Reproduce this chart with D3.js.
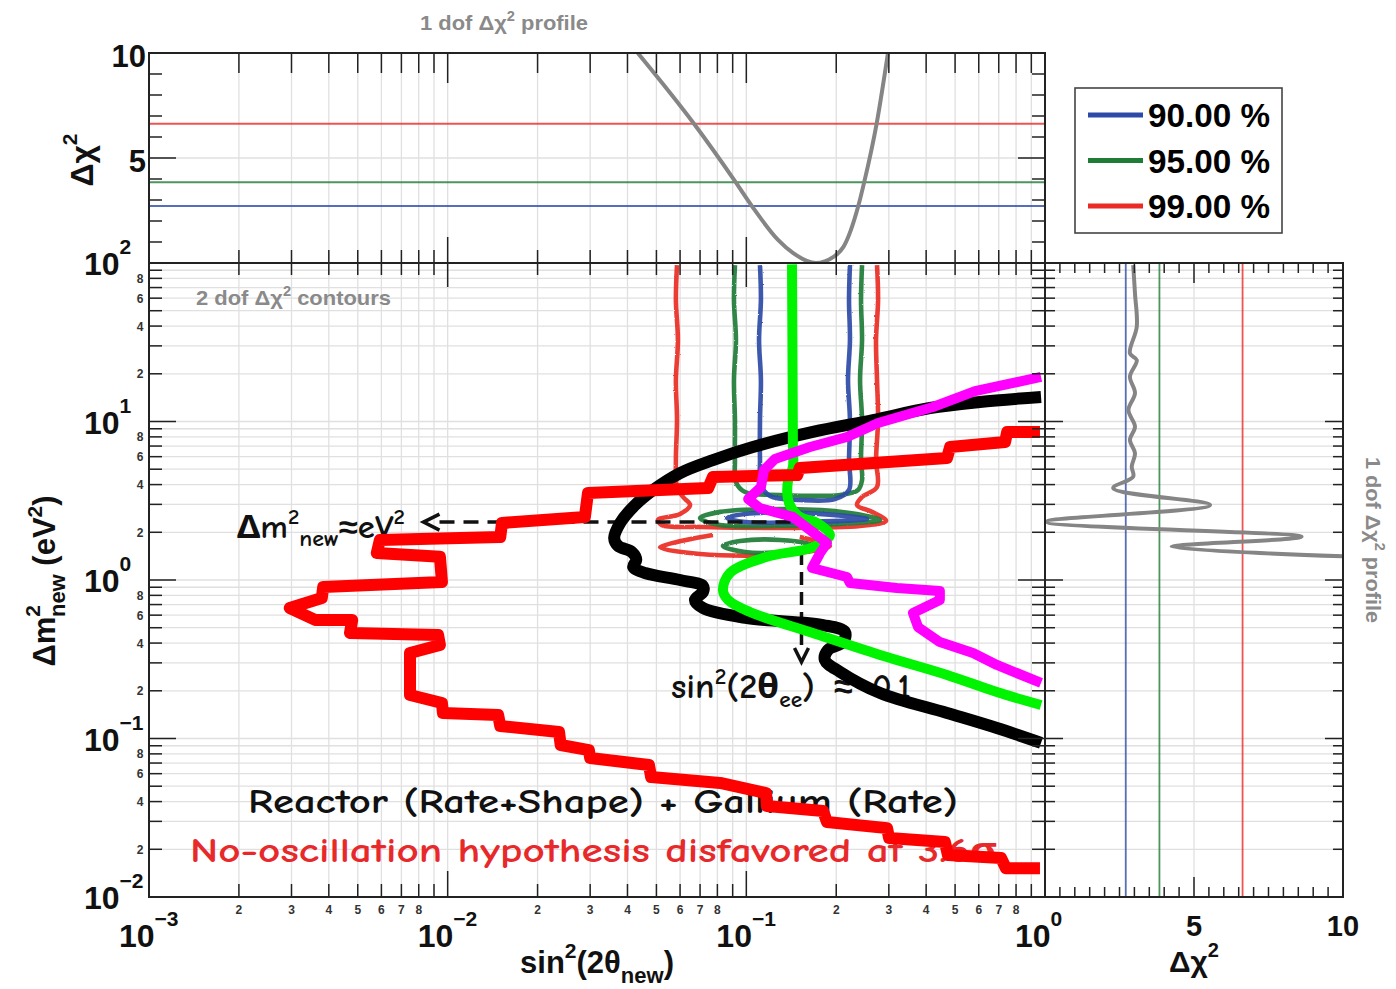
<!DOCTYPE html>
<html>
<head>
<meta charset="utf-8">
<script src="https://cdn.jsdelivr.net/npm/d3@7"></script>
<style>
  html, body { margin: 0; padding: 0; background: #fff; }
  svg { display: block; }
</style>
</head>
<body>
<svg id="chart" width="1396" height="989"></svg>
<script>
// ---------------- data ----------------
// tick labels
const xMajorExp = ["\u22123", "\u22122", "\u22121", "0"];
const xMajorVal = [1e-3, 1e-2, 1e-1, 1];
const xMinorDigits = [2, 3, 4, 5, 6, 7, 8];
const yMajorExp = ["\u22122", "\u22121", "0", "1", "2"];
const yMajorVal = [1e-2, 1e-1, 1, 10, 100];
const yMinorDigits = [2, 4, 6, 8];
const topYLabels = [5, 10];
const rightXLabels = [5, 10];

// confidence levels (1 dof thresholds shown as lines)
const clNames = ["90.00 %", "95.00 %", "99.00 %"];
const clColors = ["#2c4ba6", "#1f7c36", "#ea2b25"];
const clDchi2 = [2.71, 3.84, 6.63];

// 1 dof profile versus sin^2(2theta)
const profS = [0.0433, 0.0668, 0.0922, 0.1044, 0.1277, 0.1432, 0.171, 0.1958, 0.2118, 0.237, 0.248, 0.273, 0.298];
const profC = [10, 6.63, 3.84, 2.71, 1.1, 0.48, 0, 0.29, 0.78, 2.71, 3.84, 6.63, 10];

// 1 dof profile versus dm^2
const profRC = [2.96, 3.02, 3.08, 2.85, 3.08, 2.85, 3.02, 2.80, 3.02, 2.85, 3.02, 2.91, 2.96, 2.29, 5.54, 0.05, 8.61, 4.25, 10.5];
const profRM = [97, 64, 39.7, 26.9, 24.4, 19.2, 15.1, 11.8, 9.27, 7.64, 6.30, 5.19, 4.49, 3.80, 2.97, 2.33, 1.875, 1.62, 1.40];

// 2 dof contours: [sin^2(2theta), dm^2]
const c99Main = [[0.0586,97.1],[0.0581,58.4],[0.0590,32.7],[0.0581,18.27],[0.0586,10.21],[0.0581,5.71],[0.0586,3.86],[0.0614,3.34],[0.0648,2.97],[0.0600,2.61],[0.0506,2.39],[0.0522,2.22],[0.0700,2.16],[0.1297,2.13],[0.2403,2.19],[0.2936,2.36],[0.2634,2.69],[0.2348,2.97],[0.2440,3.34],[0.2739,3.86],[0.2718,5.71],[0.2761,10.21],[0.2739,18.27],[0.2718,32.7],[0.2761,58.4],[0.2739,97.1]];
const c99Lobe = [[0.151,1.87],[0.1905,1.64],[0.1401,1.46],[0.0700,1.46],[0.0514,1.61],[0.0773,1.92]];
const c95Main = [[0.0916,97.1],[0.0909,58.4],[0.0923,32.7],[0.0909,18.27],[0.0916,10.21],[0.0916,5.71],[0.0923,4.15],[0.0990,3.59],[0.1297,3.44],[0.2061,3.44],[0.2366,3.70],[0.2440,4.27],[0.2421,5.71],[0.2440,10.21],[0.2403,18.27],[0.2440,32.7],[0.2421,58.4],[0.2440,97.1]];
const c95Island1 = [[0.0700,2.46],[0.0817,2.69],[0.1297,2.80],[0.2061,2.69],[0.2805,2.39],[0.2061,2.26],[0.1297,2.19],[0.0817,2.22]];
const c95Island2 = [[0.0835,1.64],[0.0952,1.76],[0.1297,1.79],[0.167,1.66],[0.1401,1.52],[0.0990,1.50]];
const c90Main = [[0.1111,97.1],[0.1119,58.4],[0.1103,32.7],[0.1119,18.27],[0.1111,10.21],[0.1111,5.71],[0.1119,3.98],[0.1200,3.39],[0.151,3.20],[0.1981,3.24],[0.2207,3.70],[0.2207,5.71],[0.2223,10.21],[0.2190,18.27],[0.2223,32.7],[0.2207,58.4],[0.2223,97.1]];
const c90Island = [[0.0862,2.46],[0.0990,2.61],[0.151,2.65],[0.2535,2.43],[0.151,2.32],[0.0990,2.32]];

// overlaid curves
const redStepS = [0.962,0.747,0.735,0.481,0.470,0.151,0.148,0.0773,0.0745,0.0295,0.0288,0.0152,0.0150,0.00593,0.00579,0.00942,0.00957,0.00383,0.00379,0.00296,0.00360,0.00479,0.00471,0.00929,0.00942,0.00748,0.00748,0.00957,0.00964,0.01476,0.0150,0.0236,0.0239,0.0297,0.0300,0.0472,0.0480,0.0817,0.1164,0.1172,0.1807,0.1862,0.2958,0.3006,0.4624,0.4732,0.7129,0.7396,0.962];
const redStepM = [8.59,8.59,7.43,6.90,5.89,5.09,4.59,4.47,3.80,3.54,2.50,2.29,1.87,1.79,1.48,1.40,0.970,0.903,0.769,0.665,0.560,0.560,0.463,0.450,0.389,0.346,0.188,0.1675,0.1449,0.1406,0.1199,0.1099,0.0910,0.0845,0.0753,0.0681,0.0571,0.0524,0.0453,0.0375,0.0349,0.0297,0.0272,0.0236,0.0222,0.0184,0.0176,0.0152,0.0152];
const blackS = [0.970,0.605,0.412,0.2655,0.167,0.1052,0.0773,0.0600,0.0488,0.0418,0.0378,0.0361,0.0372,0.0414,0.0428,0.0418,0.0458,0.0600,0.0716,0.0716,0.0673,0.0716,0.1005,0.1807,0.2138,0.2109,0.1875,0.1832,0.2061,0.2805,0.470,0.690,0.970];
const blackM = [14.29,13.28,12.16,10.21,8.59,6.90,5.71,4.73,3.70,2.89,2.29,1.84,1.64,1.50,1.337,1.208,1.107,1.000,0.916,0.840,0.748,0.665,0.575,0.520,0.470,0.406,0.361,0.313,0.263,0.1936,0.1449,0.1164,0.0938];
const limeS = [0.1422,0.1432,0.1432,0.1380,0.1390,0.151,0.1726,0.1905,0.167,0.1172,0.0881,0.0835,0.0869,0.1028,0.167,0.2805,0.470,0.690,0.970];
const limeM = [98,6.90,5.16,4.27,3.06,2.50,2.29,1.92,1.61,1.40,1.107,0.865,0.748,0.628,0.463,0.3365,0.2518,0.1963,0.1626];
const magS = [0.970,0.583,0.4217,0.2761,0.2173,0.1633,0.1247,0.1146,0.1119,0.1014,0.1111,0.1432,0.1633,0.1862,0.1766,0.1660,0.2173,0.2223,0.3192,0.4446,0.4446,0.3614,0.3758,0.4446,0.5741,0.690,0.970];
const magM = [19.1,15.56,12.34,9.79,7.98,6.90,5.80,4.94,3.86,3.24,2.84,2.50,2.07,1.71,1.48,1.191,1.045,0.957,0.891,0.853,0.748,0.619,0.505,0.406,0.346,0.291,0.224];

// annotation arrows
const arrowHS = [0.0083, 0.17];
const arrowHM = [2.32, 2.32];
const arrowVS = [0.153, 0.153];
const arrowVM = [1.5, 0.304];

// ---------------- layout ----------------
const AX_FONT = "'Liberation Sans', Arial, Helvetica, sans-serif";
const HAND_FONT = "'Comic Sans MS', 'Comic Neue', 'Noto Sans', sans-serif";
const TITLE_GRAY = "#8a8a8a";

const svg = d3.select("#chart");
const defs = svg.append("defs");

const x = d3.scaleLog().domain([1e-3, 1]).range([149, 1045]);
const y = d3.scaleLog().domain([1e-2, 1e2]).range([897, 263]);
const yTop = d3.scaleLinear().domain([0, 10]).range([263, 53]);
const xRight = d3.scaleLinear().domain([0, 10]).range([1045, 1343]);

const mainP = {x0: 149, x1: 1045, y0: 263, y1: 897};
const topP = {x0: 149, x1: 1045, y0: 53, y1: 263};
const rightP = {x0: 1045, x1: 1343, y0: 263, y1: 897};

function addClip(id, p) {
  defs.append("clipPath").attr("id", id).append("rect")
    .attr("x", p.x0).attr("y", p.y0).attr("width", p.x1 - p.x0).attr("height", p.y1 - p.y0);
}
addClip("clipMain", mainP);
addClip("clipTop", topP);
addClip("clipRight", rightP);

// slightly ragged rendering for the computed contour lines
const rough = defs.append("filter").attr("id", "rough").attr("filterUnits", "userSpaceOnUse")
  .attr("x", 140).attr("y", 255).attr("width", 920).attr("height", 660);
rough.append("feTurbulence").attr("type", "fractalNoise").attr("baseFrequency", "0.9")
  .attr("numOctaves", 1).attr("seed", 4).attr("result", "n");
rough.append("feDisplacementMap").attr("in", "SourceGraphic").attr("in2", "n")
  .attr("scale", 2.2).attr("xChannelSelector", "R").attr("yChannelSelector", "G");

function logTicks(eLo, eHi) {
  const out = [];
  for (let e = eLo; e < eHi; e++) for (let k = 1; k < 10; k++) out.push({v: k * Math.pow(10, e), major: k === 1});
  out.push({v: Math.pow(10, eHi), major: true});
  return out;
}
const xTicks = logTicks(-3, 0);
const yTicks = logTicks(-2, 2);
const linTicks = (step, majorEvery) => d3.range(0, 10 + 1e-9, step).map(v => ({v, major: Math.abs(v / majorEvery - Math.round(v / majorEvery)) < 1e-9}));
const topYTicks = linTicks(1, 5);
const rightXTicks = linTicks(0.5, 5);

// ---------------- grid ----------------
const grid = svg.append("g").attr("stroke", "#e0e0e0").attr("stroke-width", 1.3);
xTicks.slice(1, -1).forEach(t => {
  grid.append("line").attr("x1", x(t.v)).attr("x2", x(t.v)).attr("y1", mainP.y0).attr("y2", mainP.y1);
  grid.append("line").attr("x1", x(t.v)).attr("x2", x(t.v)).attr("y1", topP.y0).attr("y2", topP.y1);
});
yTicks.slice(1, -1).forEach(t => {
  grid.append("line").attr("y1", y(t.v)).attr("y2", y(t.v)).attr("x1", mainP.x0).attr("x2", mainP.x1);
  grid.append("line").attr("y1", y(t.v)).attr("y2", y(t.v)).attr("x1", rightP.x0).attr("x2", rightP.x1);
});
grid.append("line").attr("y1", yTop(5)).attr("y2", yTop(5)).attr("x1", topP.x0).attr("x2", topP.x1);
grid.append("line").attr("x1", xRight(5)).attr("x2", xRight(5)).attr("y1", rightP.y0).attr("y2", rightP.y1);

// ---------------- top panel: 1 dof profile in sin^2 ----------------
const gTop = svg.append("g").attr("clip-path", "url(#clipTop)");
clDchi2.forEach((c, i) => {
  gTop.append("line").attr("x1", topP.x0).attr("x2", topP.x1).attr("y1", yTop(c)).attr("y2", yTop(c))
    .attr("stroke", clColors[i]).attr("stroke-opacity", 0.8).attr("stroke-width", 2);
});
gTop.append("path")
  .attr("d", d3.line().x((d, i) => x(profS[i])).y((d, i) => yTop(profC[i])).curve(d3.curveMonotoneX)(profS))
  .attr("fill", "none").attr("stroke", "#858585").attr("stroke-width", 4);

// ---------------- right panel: 1 dof profile in dm^2 ----------------
const gRight = svg.append("g").attr("clip-path", "url(#clipRight)");
clDchi2.forEach((c, i) => {
  gRight.append("line").attr("y1", rightP.y0).attr("y2", rightP.y1).attr("x1", xRight(c)).attr("x2", xRight(c))
    .attr("stroke", clColors[i]).attr("stroke-opacity", 0.8).attr("stroke-width", 1.8);
});
gRight.append("path")
  .attr("d", d3.line().x((d, i) => xRight(profRC[i])).y((d, i) => y(profRM[i])).curve(d3.curveCatmullRom.alpha(0.5))(profRC))
  .attr("fill", "none").attr("stroke", "#858585").attr("stroke-width", 4).attr("stroke-linejoin", "round");

// ---------------- main panel ----------------
const gMain = svg.append("g").attr("clip-path", "url(#clipMain)");
const pairLine = d3.line().x(d => x(d[0])).y(d => y(d[1]));

const contours = gMain.append("g").attr("filter", "url(#rough)").attr("fill", "none")
  .attr("stroke-width", 4.6).attr("stroke-linejoin", "round");
const contourSets = [
  {paths: [c99Main], closed: false, color: clColors[2]},
  {paths: [c99Lobe], closed: false, color: clColors[2]},
  {paths: [c95Main], closed: false, color: clColors[1]},
  {paths: [c95Island1, c95Island2], closed: true, color: clColors[1]},
  {paths: [c90Main], closed: false, color: clColors[0]},
  {paths: [c90Island], closed: true, color: clColors[0]}
];
contourSets.forEach(set => {
  set.paths.forEach(p => {
    const gen = d3.line().x(d => x(d[0])).y(d => y(d[1]))
      .curve(set.closed ? d3.curveCatmullRomClosed.alpha(0.5) : d3.curveCatmullRom.alpha(0.5));
    contours.append("path").attr("d", gen(p)).attr("stroke", set.color).attr("stroke-opacity", 0.92);
  });
});

// panel labels
function dofLabel(parent, tx, ty, pre, post, len, rot) {
  const t = parent.append("text").attr("font-family", AX_FONT).attr("font-weight", "bold")
    .attr("font-size", 21).attr("fill", TITLE_GRAY)
    .attr("transform", `translate(${tx},${ty})` + (rot ? ` rotate(${rot})` : ""))
    .attr("textLength", len).attr("lengthAdjust", "spacingAndGlyphs");
  t.append("tspan").text(pre);
  t.append("tspan").attr("font-size", 14).attr("dy", -9).text("2");
  t.append("tspan").attr("dy", 9).text(post);
}
dofLabel(svg, 420, 30, "1 dof \u0394\u03c7", " profile", 168);
dofLabel(svg, 196, 305, "2 dof \u0394\u03c7", " contours", 195);
dofLabel(svg, 1366, 457, "1 dof \u0394\u03c7", " profile", 166, 90);

// hand-written annotations
const ann = gMain.append("g").attr("font-family", HAND_FONT).attr("font-weight", "bold");
{
  const t = ann.append("text").attr("x", 237).attr("y", 538).attr("font-size", 32).attr("fill", "#111")
    .attr("textLength", 168).attr("lengthAdjust", "spacingAndGlyphs");
  t.append("tspan").text("\u0394m");
  t.append("tspan").attr("font-size", 21).attr("dy", -14).text("2");
  t.append("tspan").attr("font-size", 22).attr("dy", 22).text("new");
  t.append("tspan").attr("dy", -8).text("\u2248eV");
  t.append("tspan").attr("font-size", 21).attr("dy", -14).text("2");
}
{
  const t = ann.append("text").attr("x", 671).attr("y", 698).attr("font-size", 34).attr("fill", "#111")
    .attr("textLength", 144).attr("lengthAdjust", "spacingAndGlyphs");
  t.append("tspan").text("sin");
  t.append("tspan").attr("font-size", 22).attr("dy", -14).text("2");
  t.append("tspan").attr("dy", 14).text("(2\u03b8");
  t.append("tspan").attr("font-size", 22).attr("dy", 9).text("ee");
  t.append("tspan").attr("dy", -9).text(")");
  ann.append("text").attr("x", 834).attr("y", 698).attr("font-size", 34).attr("fill", "#111").text("\u2248");
  ann.append("text").attr("x", 872).attr("y", 698).attr("font-size", 34).attr("fill", "#111").text("0.1");
}
ann.append("text").attr("x", 248).attr("y", 813).attr("font-size", 34).attr("fill", "#111")
  .attr("textLength", 710).attr("lengthAdjust", "spacingAndGlyphs")
  .text("Reactor (Rate+Shape) + Gallium (Rate)");
ann.append("text").attr("x", 190).attr("y", 862).attr("font-size", 34).attr("fill", "#e8292b")
  .attr("textLength", 808).attr("lengthAdjust", "spacingAndGlyphs")
  .text("No-oscillation hypothesis disfavored at 3.6\u03c3");

// dashed arrows
const arrows = gMain.append("g").attr("stroke", "#111").attr("fill", "none").attr("stroke-width", 3.5);
{
  const x0 = x(arrowHS[0]), x1 = x(arrowHS[1]), yy = y(arrowHM[0]);
  arrows.append("line").attr("x1", x0 + 16).attr("x2", x1).attr("y1", yy).attr("y2", yy).attr("stroke-dasharray", "15,9");
  arrows.append("path").attr("d", `M${x0 + 16},${yy - 8}L${x0},${yy}L${x0 + 16},${yy + 8}`).attr("stroke-linejoin", "miter");
  const xv = x(arrowVS[0]), y0v = y(arrowVM[0]), y1v = y(arrowVM[1]);
  arrows.append("line").attr("x1", xv).attr("x2", xv).attr("y1", y0v).attr("y2", y1v - 16).attr("stroke-dasharray", "13,7");
  arrows.append("path").attr("d", `M${xv - 7},${y1v - 14}L${xv},${y1v}L${xv + 7},${y1v - 14}`);
}

// thick overlay curves
const zipLine = (S, M) => S.map((s, i) => [s, M[i]]);
gMain.append("path").attr("d", pairLine.curve(d3.curveCatmullRom.alpha(0.5))(zipLine(blackS, blackM)))
  .attr("fill", "none").attr("stroke", "#000").attr("stroke-width", 12).attr("stroke-linejoin", "round").attr("stroke-linecap", "butt");
gMain.append("path").attr("d", pairLine.curve(d3.curveCatmullRom.alpha(0.5))(zipLine(limeS, limeM)))
  .attr("fill", "none").attr("stroke", "#00f400").attr("stroke-width", 10).attr("stroke-linejoin", "round");
gMain.append("path").attr("d", pairLine.curve(d3.curveLinear)(zipLine(redStepS, redStepM)))
  .attr("fill", "none").attr("stroke", "#ff0000").attr("stroke-width", 12).attr("stroke-linejoin", "round");
gMain.append("path").attr("d", pairLine.curve(d3.curveLinear)(zipLine(magS, magM)))
  .attr("fill", "none").attr("stroke", "#ff00ff").attr("stroke-width", 10).attr("stroke-linejoin", "round");

// ---------------- ticks ----------------
const tk = svg.append("g").attr("stroke", "#222").attr("stroke-width", 1.5);
function hTicks(ticks, scale, yy, dir, lMin, lMaj) {
  ticks.forEach(t => { const px = scale(t.v); tk.append("line").attr("x1", px).attr("x2", px).attr("y1", yy).attr("y2", yy + dir * (t.major ? lMaj : lMin)); });
}
function vTicks(ticks, scale, xx, dir, lMin, lMaj) {
  ticks.forEach(t => { const py = scale(t.v); tk.append("line").attr("y1", py).attr("y2", py).attr("x1", xx).attr("x2", xx + dir * (t.major ? lMaj : lMin)); });
}
// main panel
hTicks(xTicks, x, mainP.y1, -1, 13, 26);
hTicks(xTicks, x, mainP.y0, 1, 12, 24);
vTicks(yTicks, y, mainP.x0, 1, 13, 27);
vTicks(yTicks, y, mainP.x1, -1, 13, 27);
// top panel
hTicks(xTicks, x, topP.y0, 1, 20, 30);
hTicks(xTicks, x, topP.y1, -1, 13, 26);
vTicks(topYTicks, yTop, topP.x0, 1, 13, 27);
vTicks(topYTicks, yTop, topP.x1, -1, 13, 27);
// right panel
vTicks(yTicks, y, rightP.x0, 1, 10, 18);
vTicks(yTicks, y, rightP.x1, -1, 10, 18);
hTicks(rightXTicks, xRight, rightP.y0, 1, 10, 20);
hTicks(rightXTicks, xRight, rightP.y1, -1, 10, 20);

// frames
[mainP, topP, rightP].forEach(p => {
  svg.append("rect").attr("x", p.x0).attr("y", p.y0).attr("width", p.x1 - p.x0).attr("height", p.y1 - p.y0)
    .attr("fill", "none").attr("stroke", "#222").attr("stroke-width", 2);
});

// ---------------- tick labels ----------------
const lab = svg.append("g").attr("font-family", AX_FONT).attr("font-weight", "bold").attr("fill", "#111");
function powLabel(px, py, exp, anchor) {
  const t = lab.append("text").attr("x", px).attr("y", py).attr("font-size", 32).attr("text-anchor", anchor || "start");
  t.append("tspan").text("10");
  t.append("tspan").attr("font-size", 21).attr("dy", -21).text(exp);
}
xMajorVal.forEach((v, i) => powLabel(x(v) - 30, 947, xMajorExp[i]));
yMajorVal.forEach((v, i) => powLabel(84, y(v) + 12, yMajorExp[i]));

const minorLab = svg.append("g").attr("font-family", AX_FONT).attr("font-weight", "bold")
  .attr("font-size", 12).attr("fill", "#333").attr("text-anchor", "middle");
[-3, -2, -1].forEach(e => xMinorDigits.forEach(k => {
  minorLab.append("text").attr("x", x(k * Math.pow(10, e))).attr("y", 914).text(k);
}));
[-2, -1, 0, 1].forEach(e => yMinorDigits.forEach(k => {
  minorLab.append("text").attr("x", 140).attr("y", y(k * Math.pow(10, e)) + 4.5).text(k);
}));

topYLabels.forEach(v => lab.append("text").attr("x", 146).attr("y", yTop(v) + 14).attr("font-size", 31)
  .attr("text-anchor", "end").text(v));
rightXLabels.forEach(v => lab.append("text").attr("x", xRight(v)).attr("y", 936).attr("font-size", 29)
  .attr("text-anchor", "middle").text(v));

// ---------------- axis titles ----------------
{
  const t = lab.append("text").attr("x", 597).attr("y", 973).attr("font-size", 31).attr("text-anchor", "middle");
  t.append("tspan").text("sin");
  t.append("tspan").attr("font-size", 21).attr("dy", -15).text("2");
  t.append("tspan").attr("dy", 15).text("(2\u03b8");
  t.append("tspan").attr("font-size", 22).attr("dy", 10).text("new");
  t.append("tspan").attr("dy", -10).text(")");
}
{
  const t = lab.append("text").attr("x", 1194).attr("y", 972).attr("font-size", 30).attr("text-anchor", "middle");
  t.append("tspan").text("\u0394\u03c7");
  t.append("tspan").attr("font-size", 20).attr("dy", -15).text("2");
}
{
  const t = lab.append("text").attr("transform", "translate(93,160) rotate(-90)").attr("font-size", 32).attr("text-anchor", "middle");
  t.append("tspan").text("\u0394\u03c7");
  t.append("tspan").attr("font-size", 21).attr("dy", -16).text("2");
}
{
  const t = lab.append("text").attr("transform", "translate(55,581) rotate(-90)").attr("font-size", 31).attr("text-anchor", "middle");
  t.append("tspan").text("\u0394m");
  t.append("tspan").attr("font-size", 21).attr("dy", -15).text("2");
  t.append("tspan").attr("font-size", 22).attr("dx", -12).attr("dy", 25).text("new");
  t.append("tspan").attr("dy", -10).text(" (eV");
  t.append("tspan").attr("font-size", 21).attr("dy", -13).text("2");
  t.append("tspan").attr("dy", 13).text(")");
}

// ---------------- legend ----------------
const leg = svg.append("g");
leg.append("rect").attr("x", 1075).attr("y", 88).attr("width", 207).attr("height", 145)
  .attr("fill", "#fff").attr("stroke", "#444").attr("stroke-width", 1.6);
clNames.forEach((n, i) => {
  const cy = 115 + i * 45.5;
  leg.append("line").attr("x1", 1088).attr("x2", 1143).attr("y1", cy).attr("y2", cy)
    .attr("stroke", clColors[i]).attr("stroke-width", 5);
  leg.append("text").attr("x", 1148).attr("y", cy + 12).attr("font-family", AX_FONT).attr("font-weight", "bold")
    .attr("font-size", 33).attr("fill", "#000").attr("textLength", 122).attr("lengthAdjust", "spacingAndGlyphs").text(n);
});
</script>
</body>
</html>
